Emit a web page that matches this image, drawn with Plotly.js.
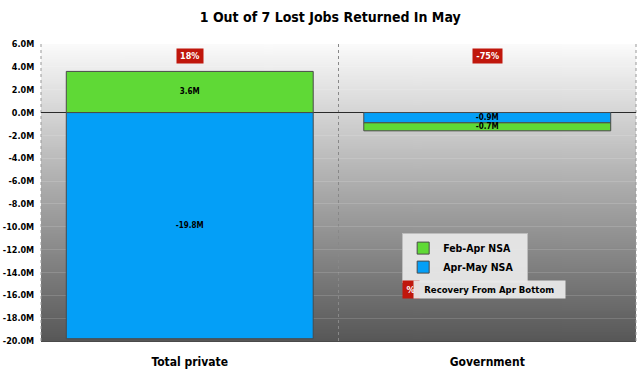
<!DOCTYPE html>
<html>
<head>
<meta charset="utf-8">
<script src="https://cdn.plot.ly/plotly-3.0.1.min.js"></script>
<style>
  html, body { margin: 0; padding: 0; background: #ffffff; }
  #chart { width: 640px; height: 374px; }
  #chart text { font-stretch: condensed !important; }
</style>
</head>
<body>
<div id="chart"></div>
<script>
// ---- data ----
var categories = ['Total private', 'Government'];
var febAprLabel = 'Feb-Apr NSA';
var aprMayLabel = 'Apr-May NSA';
var febAprValues = [3.6, -0.7];     // green series (millions)
var aprMayValues = [-19.8, -0.9];   // blue series (millions)
var recoveryPct = ['18%', '-75%'];
var recoveryLabel = 'Recovery From Apr Bottom';
var tickValues = [6, 4, 2, 0, -2, -4, -6, -8, -10, -12, -14, -16, -18, -20];
var tickLabels = ['6.0M', '4.0M', '2.0M', '0.0M', '-2.0M', '-4.0M', '-6.0M', '-8.0M',
                  '-10.0M', '-12.0M', '-14.0M', '-16.0M', '-18.0M', '-20.0M'];
var chartTitle = '1 Out of 7 Lost Jobs Returned In May';

// ---- styles ----
var FONT = '"DejaVu Sans", "Liberation Sans Narrow", sans-serif';
var GREEN = '#5fd936';
var BLUE = '#049ff7';
var RED = '#c0170c';

// gradient background image for the plot area
function gradientURL() {
  var c = document.createElement('canvas');
  c.width = 4; c.height = 300;
  var ctx = c.getContext('2d');
  var g = ctx.createLinearGradient(0, 0, 0, 300);
  g.addColorStop(0, '#fbfbfb');
  g.addColorStop(1, '#575757');
  ctx.fillStyle = g;
  ctx.fillRect(0, 0, 4, 300);
  return c.toDataURL('image/png');
}

var traces = [
  {
    type: 'bar', name: aprMayLabel, x: categories, y: aprMayValues,
    marker: { color: BLUE, line: { color: '#4a4a4a', width: 1 } },
    texttemplate: '%{y:.1f}M', textposition: 'inside', insidetextanchor: 'middle',
    constraintext: 'none',
    textfont: { family: FONT, size: 8, color: '#000', weight: 'bold' },
    width: 0.83, legendrank: 2, hoverinfo: 'none'
  },
  {
    type: 'bar', name: febAprLabel, x: categories, y: febAprValues,
    marker: { color: GREEN, line: { color: '#4a4a4a', width: 1 } },
    texttemplate: '%{y:.1f}M', textposition: 'inside', insidetextanchor: 'middle',
    constraintext: 'none',
    textfont: { family: FONT, size: 8, color: '#000', weight: 'bold' },
    width: 0.83, legendrank: 1, hoverinfo: 'none'
  }
];

var annotations = categories.map(function (c, i) {
  return {
    x: c, xref: 'x', y: 4.95, yref: 'y',
    text: recoveryPct[i], showarrow: false,
    bgcolor: RED, borderpad: 2,
    font: { family: FONT, size: 9, color: '#ffffff', weight: 'bold' }
  };
});
annotations.push({
  x: 0.607, xref: 'paper', y: 0.175, yref: 'paper', xanchor: 'left', yanchor: 'middle',
  text: '%', showarrow: false, bgcolor: RED, borderpad: 3,
  font: { family: FONT, size: 9.5, color: '#ffffff', weight: 'bold' }
});
annotations.push({
  x: 0.626, xref: 'paper', y: 0.175, yref: 'paper', xanchor: 'left', yanchor: 'middle',
  text: recoveryLabel, showarrow: false, bgcolor: 'rgba(232,232,232,0.95)', borderpad: 3,
  font: { family: FONT, size: 9.5, color: '#000', weight: 'bold' }
});

var layout = {
  width: 640, height: 374,
  margin: { l: 41, r: 4, t: 44, b: 33 },
  paper_bgcolor: '#ffffff',
  plot_bgcolor: 'rgba(0,0,0,0)',
  barmode: 'relative',
  bargap: 0.17,
  showlegend: true,
  title: {
    text: chartTitle, x: 0.516, xanchor: 'center', y: 0.955, yanchor: 'middle',
    font: { family: FONT, size: 14, color: '#000', weight: 'bold' }
  },
  xaxis: {
    type: 'category', showgrid: false, zeroline: false,
    showline: true, linecolor: '#4a4a4a', linewidth: 1,
    ticks: 'outside', ticklen: 10, tickcolor: 'rgba(0,0,0,0)',
    tickfont: { family: FONT, size: 12, color: '#000', weight: 'bold' },
    fixedrange: true
  },
  yaxis: {
    range: [-20, 6], tickvals: tickValues, ticktext: tickLabels,
    showgrid: true, gridcolor: 'rgba(255,255,255,0.14)', gridwidth: 1,
    zeroline: true, zerolinecolor: '#2a2a2a', zerolinewidth: 1.6,
    ticks: 'outside', ticklen: 4, tickcolor: 'rgba(0,0,0,0)',
    tickfont: { family: FONT, size: 9, color: '#000', weight: 'bold' },
    showline: false, fixedrange: true
  },
  legend: {
    x: 0.607, y: 0.365, xanchor: 'left', yanchor: 'top',
    bgcolor: 'rgba(232,232,232,0.95)', bordercolor: '#bdbdbd', borderwidth: 1,
    font: { family: FONT, size: 10.5, color: '#000', weight: 'bold' },
    itemwidth: 30, tracegroupgap: 0
  },
  images: [{
    source: gradientURL(), xref: 'paper', yref: 'paper',
    x: 0, y: 1, sizex: 1, sizey: 1, sizing: 'stretch', layer: 'below'
  }],
  shapes: [
    { type: 'line', xref: 'paper', yref: 'paper', x0: 0.5, x1: 0.5, y0: 0, y1: 1,
      line: { color: '#888', width: 1, dash: 'dot' }, layer: 'below' },
    { type: 'line', xref: 'paper', yref: 'paper', x0: 0, x1: 0, y0: 0, y1: 1,
      line: { color: '#999', width: 1, dash: 'dot' }, layer: 'below' },
    { type: 'line', xref: 'paper', yref: 'paper', x0: 1, x1: 1, y0: 0, y1: 1,
      line: { color: '#999', width: 1, dash: 'dot' }, layer: 'below' }
  ],
  annotations: annotations
};

Plotly.newPlot('chart', traces, layout, { displayModeBar: false, staticPlot: true });
</script>
</body>
</html>
